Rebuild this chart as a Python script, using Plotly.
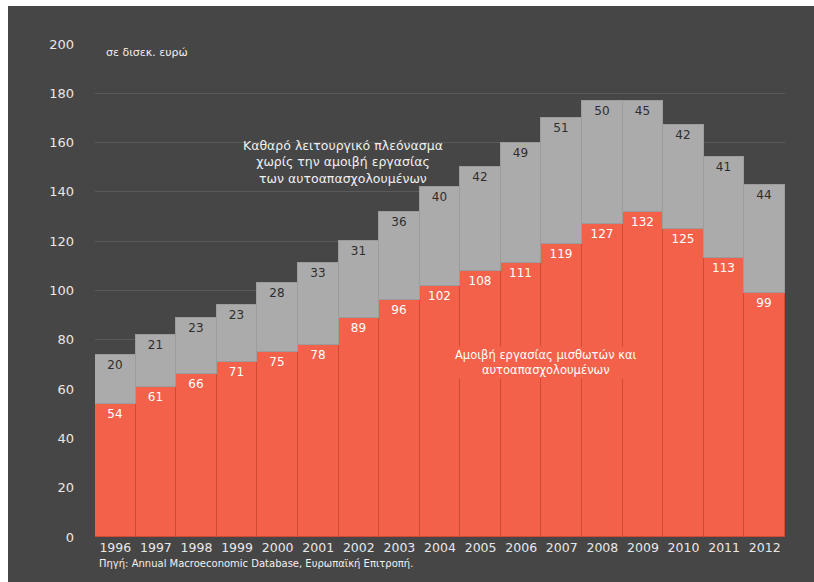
import plotly.graph_objects as go

years = list(range(1996, 2013))
compensation = [54, 61, 66, 71, 75, 78, 89, 96, 102, 108, 111, 119, 127, 132, 125, 113, 99]
surplus = [20, 21, 23, 23, 28, 33, 31, 36, 40, 42, 49, 51, 50, 45, 42, 41, 44]

W, H = 814, 582
ML, MR, MT, MB = 95, 29, 44, 45
PW, PH = W - ML - MR, H - MT - MB

BG = "#464646"
RED = "#f4614a"
GRAY = "#ababab"
FONT = "DejaVu Sans"

fig = go.Figure()
fig.add_trace(go.Bar(
    x=years, y=compensation, name="Αμοιβή εργασίας",
    marker=dict(color=RED, line=dict(color="#d24a35", width=1)),
    text=[str(v) for v in compensation], textposition="inside",
    insidetextanchor="end", textangle=0,
    textfont=dict(family=FONT, size=12, color="#ffffff"),
    width=1.0, hoverinfo="x+y",
))
fig.add_trace(go.Bar(
    x=years, y=surplus, name="Καθαρό λειτουργικό πλεόνασμα",
    marker=dict(color=GRAY, line=dict(color="#9c9c9c", width=1)),
    text=[str(v) for v in surplus], textposition="inside",
    insidetextanchor="end", textangle=0,
    textfont=dict(family=FONT, size=12, color="#2e2e2e"),
    width=1.0, hoverinfo="x+y",
))

def px_x(px):
    return (px - ML) / PW

def px_y(py):  # py measured from top of page
    return (H - MB - py) / PH

shapes = [
    dict(type="rect", xref="paper", yref="paper", layer="above",
         x0=px_x(0), x1=px_x(W), y0=px_y(6), y1=px_y(0),
         fillcolor="white", line=dict(width=0)),
    dict(type="rect", xref="paper", yref="paper", layer="above",
         x0=px_x(0), x1=px_x(8), y0=px_y(H), y1=px_y(0),
         fillcolor="white", line=dict(width=0)),
]

annotations = [
    dict(text="σε δισεκ. ευρώ", x=px_x(104), y=196.5, xref="paper", yref="y",
         xanchor="left", yanchor="middle", showarrow=False,
         font=dict(family=FONT, size=11, color="#f0f0f0")),
    dict(text="Καθαρό λειτουργικό πλεόνασμα<br>χωρίς την αμοιβή εργασίας<br>των αυτοαπασχολουμένων",
         x=2001.6, y=152, xref="x", yref="y", xanchor="center", yanchor="middle",
         showarrow=False, align="center",
         font=dict(family=FONT, size=12.5, color="#f0f0f0")),
    dict(text="Αμοιβή εργασίας μισθωτών και<br>αυτοαπασχολουμένων",
         x=2006.6, y=70.6, xref="x", yref="y", xanchor="center", yanchor="middle",
         showarrow=False, align="center", bgcolor=RED, borderpad=1,
         font=dict(family=FONT, size=11.5, color="#ffffff")),
    dict(text="Πηγή: Annual Macroeconomic Database, Ευρωπαϊκή Επιτροπή.",
         x=px_x(97), y=px_y(563), xref="paper", yref="paper",
         xanchor="left", yanchor="middle", showarrow=False,
         font=dict(family=FONT, size=10, color="#f0f0f0")),
]

fig.update_layout(
    width=W, height=H,
    margin=dict(l=ML, r=MR, t=MT, b=MB, pad=0),
    barmode="stack", bargap=0,
    paper_bgcolor=BG, plot_bgcolor=BG,
    showlegend=False,
    shapes=shapes, annotations=annotations,
    uniformtext=dict(minsize=8, mode="show"),
    xaxis=dict(range=[1995.5, 2012.5], tickmode="array", tickvals=years,
               ticktext=[str(y) for y in years], showgrid=False, zeroline=False,
               ticks="", ticklabelstandoff=1,
               tickfont=dict(family=FONT, size=12.5, color="#e8e8e8")),
    yaxis=dict(range=[0, 200], tickmode="array", tickvals=list(range(0, 201, 20)),
               showgrid=True, gridcolor="#5a5a5a", gridwidth=1, zeroline=False,
               ticks="", ticklabelstandoff=20,
               tickfont=dict(family=FONT, size=13, color="#e8e8e8")),
)

fig.write_html("out.html")
